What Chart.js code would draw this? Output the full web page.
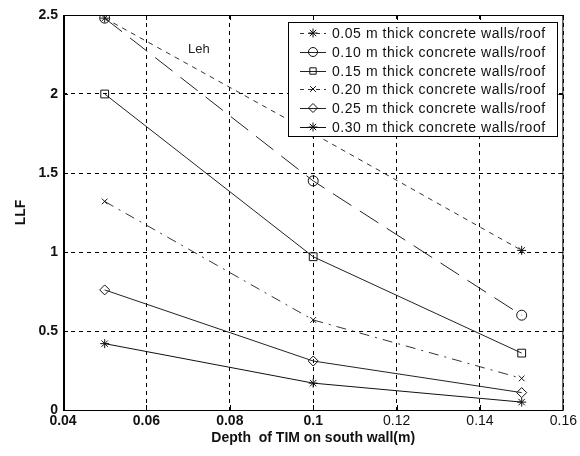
<!DOCTYPE html>
<html><head><meta charset="utf-8">
<script src="https://cdn.jsdelivr.net/npm/chart.js@4/dist/chart.umd.min.js"></script>
<style>html,body{margin:0;padding:0;background:#fff}#wrap{width:580px;height:456px}</style>
</head><body><div id="wrap"><canvas id="c" width="580" height="456"></canvas></div>
<script>
// ---- data ----
const depths = [0.05, 0.10, 0.15];
const seriesNames = [
  '0.05 m thick concrete walls/roof',
  '0.10 m thick concrete walls/roof',
  '0.15 m thick concrete walls/roof',
  '0.20 m thick concrete walls/roof',
  '0.25 m thick concrete walls/roof',
  '0.30 m thick concrete walls/roof'
];
const s005 = [2.48, 1.75, 1.01];
const s010 = [2.48, 1.45, 0.60];
const s015 = [2.00, 0.97, 0.36];
const s020 = [1.32, 0.57, 0.20];
const s025 = [0.76, 0.31, 0.11];
const s030 = [0.42, 0.17, 0.05];
const xTicks = [0.04, 0.06, 0.08, 0.10, 0.12, 0.14, 0.16];
const xTickLabels = ['0.04', '0.06', '0.08', '0.1', '0.12', '0.14', '0.16'];
const yTicks = [0, 0.5, 1, 1.5, 2, 2.5];
const yTickLabels = ['0', '0.5', '1', '1.5', '2', '2.5'];
const xTitle = 'Depth  of TIM on south wall(m)';
const yTitle = 'LLF';
const annotation = 'Leh';

const allSeries = [s005, s010, s015, s020, s025, s030];
const styles = [
  {dash: [5, 5], legendDash: [4, 4], point: 'star', r: 4.5, color: '#333'},
  {dash: [22, 10], legendDash: [], point: 'circle', r: 5, color: '#222'},
  {dash: [], legendDash: [], point: 'rect', r: 5.5, color: '#222'},
  {dash: [10, 6, 2, 6], legendDash: [4, 4], point: 'crossRot', r: 4, color: '#333'},
  {dash: [], legendDash: [], point: 'rectRot', r: 5, color: '#222'},
  {dash: [], legendDash: [], point: 'star', r: 4.5, color: '#111'}
];

const datasets = allSeries.map((vals, i) => ({
  label: seriesNames[i],
  data: depths.map((d, j) => ({x: d, y: vals[j]})),
  borderColor: styles[i].color,
  borderWidth: 1,
  borderDash: styles[i].dash,
  pointStyle: styles[i].point,
  pointRadius: styles[i].r,
  pointBorderColor: '#111',
  pointBackgroundColor: 'rgba(0,0,0,0)',
  pointBorderWidth: 1,
  fill: false,
  tension: 0
}));

function drawMarker(ctx, style, x, y, r) {
  ctx.fillStyle = 'rgba(0,0,0,0)';
  if (Chart.helpers && Chart.helpers.drawPoint) {
    Chart.helpers.drawPoint(ctx, {pointStyle: style, radius: r, borderWidth: 1, rotation: 0}, x, y);
    return;
  }
  ctx.beginPath();
  ctx.arc(x, y, r, 0, Math.PI * 2);
  ctx.stroke();
}

const framePlugin = {
  id: 'frame',
  afterDraw(chart) {
    const ctx = chart.ctx;
    const a = chart.chartArea;
    const xs = chart.scales.x, ys = chart.scales.y;
    ctx.save();
    ctx.strokeStyle = '#000';
    ctx.lineWidth = 1;
    ctx.setLineDash([]);
    ctx.strokeRect(a.left + 0.5, a.top + 0.5, a.right - a.left - 1, a.bottom - a.top);
    ctx.lineWidth = 2;
    ctx.beginPath();
    ctx.moveTo(a.left + 1, a.top);
    ctx.lineTo(a.left + 1, a.bottom + 1);
    ctx.stroke();
    // inward tick marks
    ctx.lineWidth = 1;
    ctx.beginPath();
    xTicks.forEach(v => {
      const px = Math.round(xs.getPixelForValue(v)) + 0.5;
      ctx.moveTo(px, a.top); ctx.lineTo(px, a.top + 5);
      ctx.moveTo(px, a.bottom); ctx.lineTo(px, a.bottom - 5);
    });
    yTicks.forEach(v => {
      const py = Math.round(ys.getPixelForValue(v)) + 0.5;
      ctx.moveTo(a.left, py); ctx.lineTo(a.left + 5, py);
      ctx.moveTo(a.right, py); ctx.lineTo(a.right - 5, py);
    });
    ctx.stroke();

    // annotation
    ctx.fillStyle = '#222';
    ctx.font = '13px "Liberation Sans", Arial, sans-serif';
    ctx.textAlign = 'left';
    ctx.textBaseline = 'middle';
    ctx.fillText(annotation, xs.getPixelForValue(0.070), ys.getPixelForValue(2.28));

    // legend box
    const lx = 288, ly = 22, lw = 269, lh = 114;
    ctx.fillStyle = '#fff';
    ctx.fillRect(lx, ly, lw, lh);
    ctx.strokeStyle = '#000';
    ctx.lineWidth = 1;
    ctx.strokeRect(lx + 0.5, ly + 0.5, lw, lh);
    const rowH = 18.8;
    chart.data.datasets.forEach((ds, i) => {
      const cy = Math.round(ly + 11 + i * rowH);
      ctx.save();
      ctx.strokeStyle = ds.borderColor;
      ctx.lineWidth = 1;
      ctx.setLineDash(styles[i].legendDash);
      ctx.beginPath();
      ctx.moveTo(lx + 12, cy + 0.5);
      ctx.lineTo(lx + 38, cy + 0.5);
      ctx.stroke();
      ctx.setLineDash([]);
      ctx.strokeStyle = '#111';
      drawMarker(ctx, ds.pointStyle, lx + 25, cy, Math.min(styles[i].r, 4.5));
      ctx.restore();
      ctx.save();
      ctx.fillStyle = '#111';
      ctx.font = '14px "Liberation Sans", Arial, sans-serif';
      if ('letterSpacing' in ctx) ctx.letterSpacing = '0.55px';
      ctx.textAlign = 'left';
      ctx.textBaseline = 'middle';
      ctx.fillText(ds.label, lx + 44, cy + 1);
      ctx.restore();
    });
    ctx.restore();
  }
};

new Chart(document.getElementById('c'), {
  type: 'line',
  data: {datasets},
  options: {
    responsive: false,
    animation: false,
    devicePixelRatio: 1,
    layout: {padding: {left: 0, right: 15, top: 15, bottom: 0}},
    plugins: {legend: {display: false}, tooltip: {enabled: false}},
    scales: {
      x: {
        type: 'linear', min: 0.04, max: 0.16,
        afterBuildTicks: s => { s.ticks = xTicks.map(v => ({value: v})); },
        afterFit: s => { s.height = 46; },
        ticks: {
          padding: 3,
          color: '#111',
          maxRotation: 0,
          autoSkip: false,
          font: ctx => ({family: '"Liberation Sans", Arial, sans-serif', size: 14,
                         weight: (ctx.tick && ctx.tick.value > 0.11) ? 'normal' : 'bold'}),
          callback: (v, i) => xTickLabels[i]
        },
        grid: {color: '#000', lineWidth: 1, drawTicks: false},
        border: {display: false, dash: [4, 4]},
        title: {display: true, text: xTitle, color: '#111',
                font: {family: '"Liberation Sans", Arial, sans-serif', size: 14, weight: 'bold'},
                padding: {top: 0, bottom: 9}}
      },
      y: {
        type: 'linear', min: 0, max: 2.5,
        afterBuildTicks: s => { s.ticks = yTicks.map(v => ({value: v})); },
        afterFit: s => { s.width = 63; },
        ticks: {
          padding: 5,
          color: '#111',
          autoSkip: false,
          font: {family: '"Liberation Sans", Arial, sans-serif', size: 14, weight: 'bold'},
          callback: (v, i) => yTickLabels[i]
        },
        grid: {color: '#000', lineWidth: 1, drawTicks: false},
        border: {display: false, dash: [4, 4]},
        title: {display: true, text: yTitle, color: '#111',
                font: {family: '"Liberation Sans", Arial, sans-serif', size: 14, weight: 'bold'},
                padding: {top: 13, bottom: 0}}
      }
    }
  },
  plugins: [framePlugin]
});
</script>
</body></html>
